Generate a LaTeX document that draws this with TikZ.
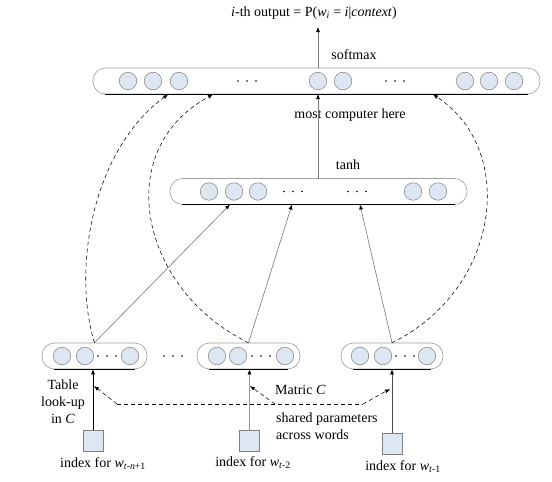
\documentclass[tikz,border=0pt]{standalone}
\usepackage{fontspec}
\setmainfont{Liberation Serif}
\usetikzlibrary{arrows.meta}
\definecolor{cellblue}{RGB}{221,230,243}
\definecolor{linegray}{RGB}{120,120,120}
\begin{document}
\begin{tikzpicture}[x=1pt,y=-1pt,
  bar/.style={draw=gray!75, rounded corners=12.5pt, minimum height=26pt, inner sep=0pt, fill=white, line width=0.6pt},
  unit/.style={circle, draw=gray, fill=cellblue, minimum size=17.5pt, inner sep=0pt, line width=0.5pt},
  idx/.style={draw=gray, fill=cellblue, minimum width=20pt, minimum height=21pt, inner sep=0pt, line width=0.5pt},
  lbl/.style={font=\fontsize{14}{17}\selectfont, inner sep=0pt},
  tip/.style={-{Latex[length=5pt,width=4pt,color=black]}},
  solidarrow/.style={tip, draw=linegray, line width=0.6pt},
  blackarrow/.style={tip, draw=black, line width=0.6pt},
  dasharrow/.style={tip, draw=black, line width=0.55pt, dash pattern=on 4pt off 3pt},
  dashline/.style={draw=black, line width=0.55pt, dash pattern=on 4pt off 3pt},
  bottomedge/.style={draw=black, line width=0.9pt},
]
\useasboundingbox (0,0) rectangle (552,482);

% ---------- bars ----------
\node[bar, minimum width=447pt] (tb) at (316.5,81) {};
\node[bar, minimum width=297pt] (hb) at (318.5,191.5) {};
\node[bar, minimum width=105pt] (b1) at (94.5,356) {};
\node[bar, minimum width=103pt] (b2) at (248.5,356) {};
\node[bar, minimum width=102pt] (b3) at (392,356) {};
\foreach \b in {tb,hb,b1,b2,b3}
  \draw[bottomedge] ([xshift=12pt]\b.south west) -- ([xshift=-12pt]\b.south east);

% ---------- units ----------
\foreach \x [count=\i] in {128,153,179,318,343,465,489,514}
  \node[unit] (t\i) at (\x,81) {};
\foreach \x [count=\i] in {209,234,258,413,438}
  \node[unit] (h\i) at (\x,191.5) {};
\foreach \x [count=\i] in {62,85,130}
  \node[unit] (p\i) at (\x,356) {};
\foreach \x [count=\i] in {217,238,285}
  \node[unit] (q\i) at (\x,356) {};
\foreach \x [count=\i] in {360,383,427}
  \node[unit] (r\i) at (\x,356) {};

% ---------- ellipsis dots ----------
\foreach \c/\y in {247/81, 395/81, 293/191.5, 357/191.5, 107/356, 261/356, 405/356, 173/356}
  \foreach \d in {-9,0,9}
    \fill ({\c+\d},\y) circle (0.9pt);

% ---------- index squares ----------
\node[idx] (s1) at (93,441) {};
\node[idx] (s2) at (249.5,441) {};
\node[idx] (s3) at (392,444) {};

% ---------- labels ----------
\node[lbl] (title) at (314,13) {\textit{i}-th output = P(\textit{w}\textsubscript{\textit{i}} = \textit{i}|\textit{context})};
\node[lbl] (softmaxlbl) at (354,55) {softmax};
\node[lbl] (mostlbl) at (350,115) {most computer here};
\node[lbl] (tanhlbl) at (348,165) {tanh};
\node[lbl, align=center] (tablelbl) at (63,402) {Table\\look-up\\in \textit{C}};
\node[lbl, anchor=west] (matric) at (275,390) {Matric \textit{C}};
\node[lbl, anchor=west, align=left] (shared) at (276,426.5) {shared parameters\\across words};
\node[lbl] (i1) at (103,464) {index for \textit{w}\textsubscript{\textit{t}-\textit{n}+1}};
\node[lbl] (i2) at (253,463) {index for \textit{w}\textsubscript{\textit{t}-2}};
\node[lbl] (i3) at (403,467) {index for \textit{w}\textsubscript{\textit{t}-1}};

% ---------- attachment coordinates ----------
\coordinate (outtip) at (318,27);
\coordinate (tbO) at (318,94);
\coordinate (tbA) at (168,94.5);
\coordinate (tbB) at (213,94.5);
\coordinate (tbC) at (433,94.5);
\coordinate (hbT) at (318,178.5);
\coordinate (hbA) at (230,204.5);
\coordinate (hbB) at (292,204.5);
\coordinate (hbC) at (360,204.5);
\coordinate (sh1) at (117,404);
\coordinate (sh2) at (275,404);
\coordinate (sh3) at (363,404);
\coordinate (a1) at (94,386);
\coordinate (a2) at (250,386);
\coordinate (a3) at (390,389);

% ---------- connectors ----------
\draw[solidarrow] (tb.north -| outtip) -- (outtip);
\draw[solidarrow] (hbT) -- (tbO);
\draw[solidarrow] (b1.north) -- (hbA);
\draw[solidarrow] (b2.north) -- (hbB);
\draw[solidarrow] (b3.north) -- (hbC);

\draw[dasharrow] (b1.north) .. controls (72,270) and (92,150) .. (tbA);
\draw[dasharrow] (b2.north) .. controls (140,290) and (110,150) .. (tbB);
\draw[dasharrow] (b3.north) .. controls (500,290) and (518,150) .. (tbC);

\draw[blackarrow] (s1.north) -- (s1.north |- b1.south);
\draw[solidarrow, draw=gray!80] (s2.north) -- (s2.north |- b2.south);
\draw[solidarrow, draw=gray!60!black] (s3.north) -- (s3.north |- b3.south);

\draw[dashline] (sh1) -- (sh3);
\draw[dasharrow] (sh1) -- (a1);
\draw[dasharrow] (sh2) -- (a2);
\draw[dasharrow] (sh3) -- (a3);
\end{tikzpicture}
\end{document}
